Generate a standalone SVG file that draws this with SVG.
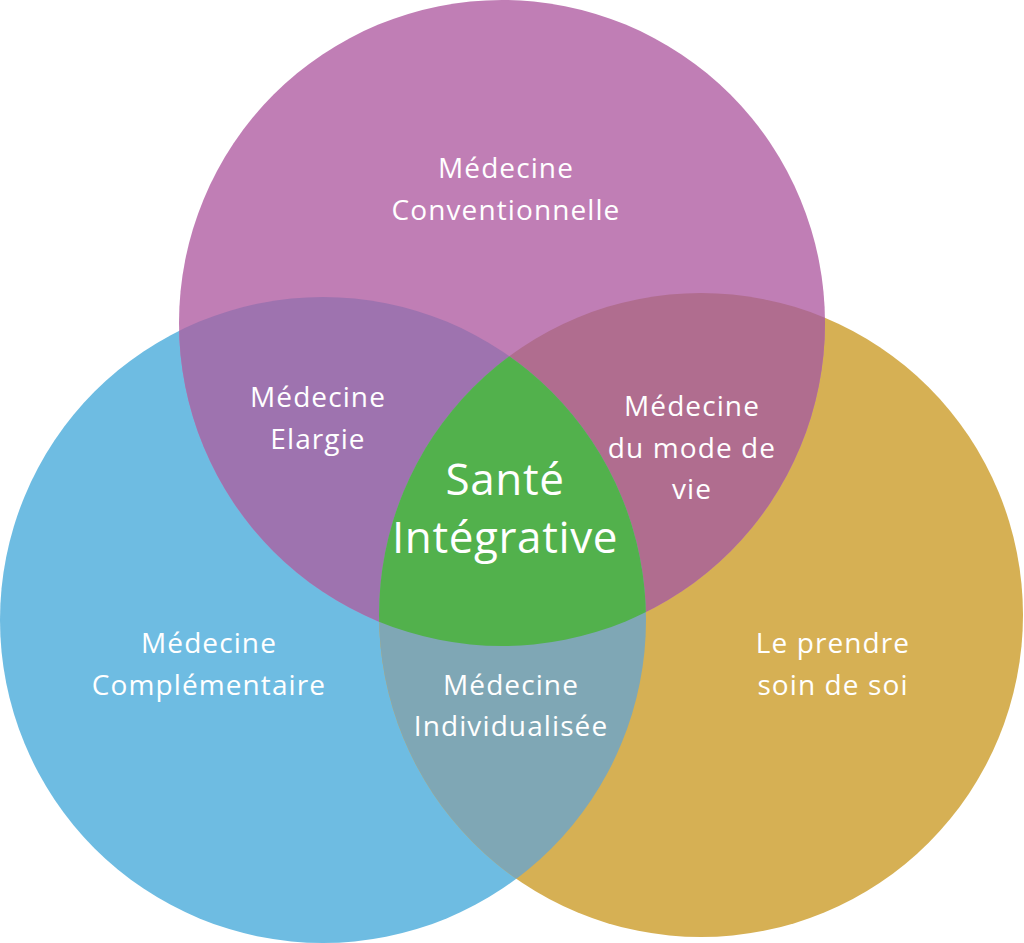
<svg xmlns="http://www.w3.org/2000/svg" width="1024" height="943" viewBox="0 0 1024 943">
<style>
.t{font-family:"Open Sans","Noto Sans","Liberation Sans",sans-serif;font-size:28px;letter-spacing:1.1px;fill:#ffffff;text-anchor:middle}
.big{font-size:44px;letter-spacing:0.6px}
</style>
<defs>
<clipPath id="cL"><circle cx="323" cy="620" r="323"/></clipPath>
<clipPath id="cR"><circle cx="701" cy="615" r="322"/></clipPath>
</defs>
<rect width="1024" height="943" fill="#ffffff"/>
<g id="circle-left"><circle cx="323" cy="620" r="323" fill="#6EBCE2"/></g>
<g id="circle-right"><circle cx="701" cy="615" r="322" fill="#D6B054"/></g>
<g id="circle-top"><circle cx="502" cy="323" r="323" fill="#C07EB5"/></g>
<g id="overlap-top-left" clip-path="url(#cL)"><circle cx="502" cy="323" r="323" fill="#9E73AF"/></g>
<g id="overlap-top-right" clip-path="url(#cR)"><circle cx="502" cy="323" r="323" fill="#B06D8F"/></g>
<g id="overlap-left-right" clip-path="url(#cR)"><circle cx="323" cy="620" r="323" fill="#7FA7B5"/></g>
<g id="center" clip-path="url(#cR)"><g clip-path="url(#cL)"><circle cx="502" cy="323" r="323" fill="#52B14C"/></g></g>
<g id="labels">
<text class="t" x="506" y="178">Médecine</text>
<text class="t" x="506" y="220">Conventionnelle</text>
<text class="t" x="318" y="407">Médecine</text>
<text class="t" x="318" y="449">Elargie</text>
<text class="t" x="692" y="416">Médecine</text>
<text class="t" x="692" y="458">du mode de</text>
<text class="t" x="692" y="499">vie</text>
<text class="t big" x="505" y="495">Santé</text>
<text class="t big" x="505" y="553">Intégrative</text>
<text class="t" x="209" y="653">Médecine</text>
<text class="t" x="209" y="695">Complémentaire</text>
<text class="t" x="511" y="695">Médecine</text>
<text class="t" x="511" y="736">Individualisée</text>
<text class="t" x="833" y="653">Le prendre</text>
<text class="t" x="833" y="695">soin de soi</text>
</g>
</svg>
